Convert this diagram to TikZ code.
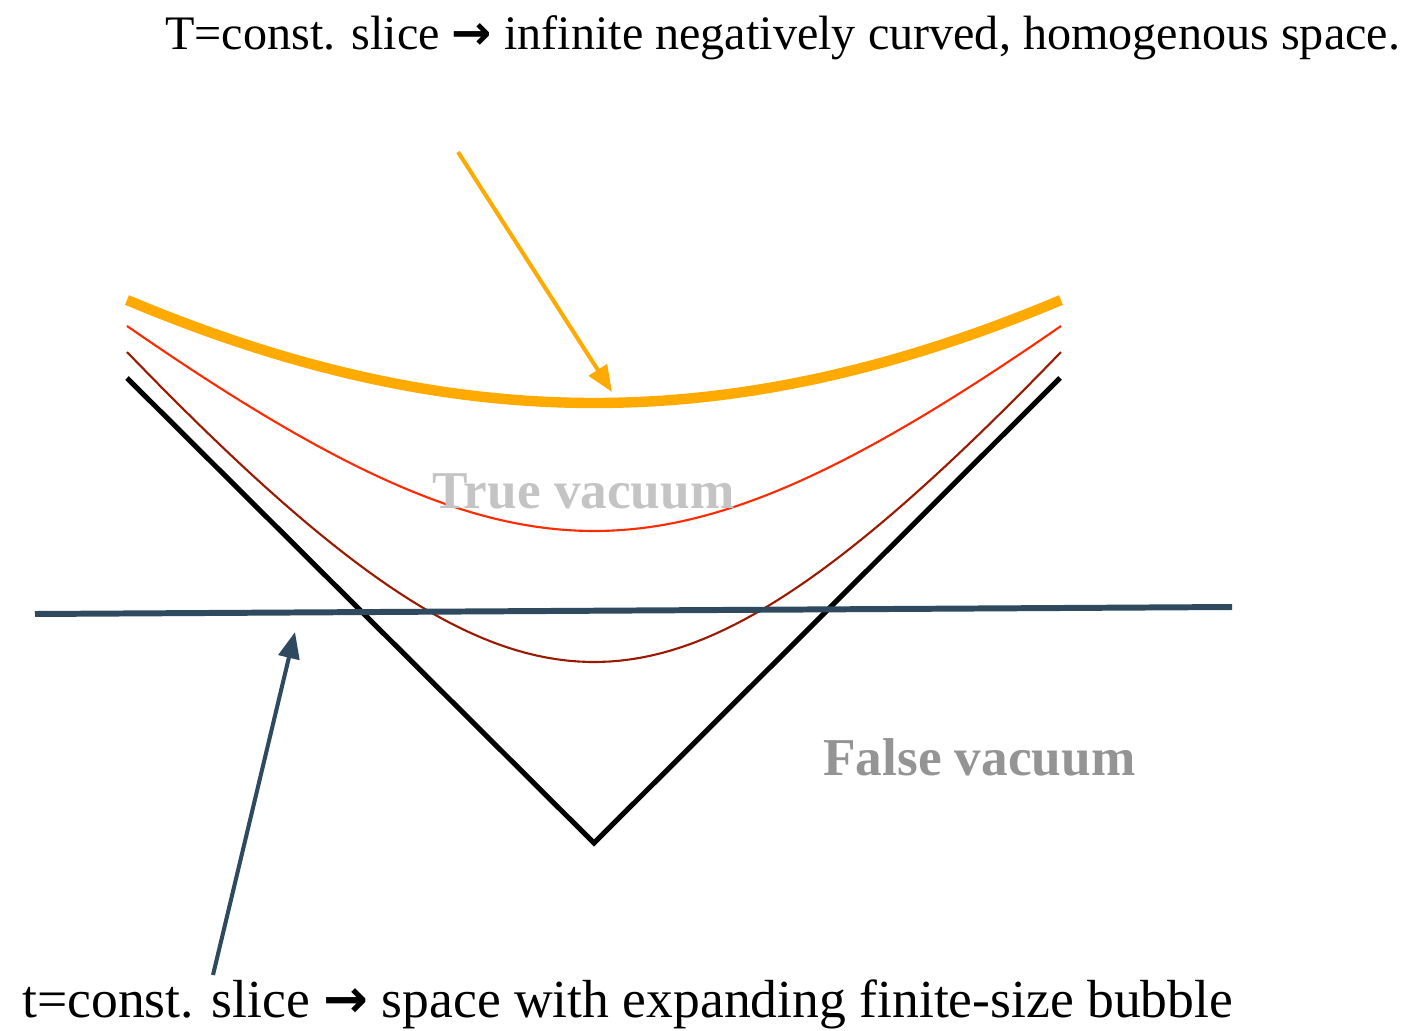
\documentclass[tikz,border=0pt]{standalone}
\usepackage{fontspec}
\setmainfont{Liberation Serif}
\newfontfamily\arrowfont{DejaVu Sans}
\usetikzlibrary{arrows.meta}
\definecolor{sliceorange}{HTML}{FFAA00}
\definecolor{bubblered}{HTML}{FF2A00}
\definecolor{darkred}{HTML}{991A00}
\definecolor{sliceblue}{HTML}{2F4A5E}
\tikzset{
  caption/.style={anchor=base west, inner sep=0pt},
  vaclabel/.style={anchor=base west, inner sep=0pt, font=\fontsize{30.3}{34}\selectfont\bfseries},
  pointer/.style={line width=2.3pt, -{Triangle[length=15pt,width=12pt]}}
}
\newcommand{\sliceto}{{\arrowfont\bfseries\char"2192}}
\begin{document}
\begin{tikzpicture}[x=2cm,y=-2cm]
\useasboundingbox (0,0) rectangle (14.25,10.31);
% light cone of the nucleation point
\coordinate (apex) at (5.94,8.43);
\coordinate (coneL) at (1.27,3.78);
\coordinate (coneR) at (10.60,3.78);
\draw[line width=2.9pt] (coneL)--(apex)--(coneR);
% T=const. slices inside the bubble
\foreach \h/\s/\a/\col/\w in {1.81/1.25/3.157/darkred/1.2pt, 3.12/0.85/3.315/bubblered/1.2pt, 4.40/1/10.072/sliceorange/5.9pt}
  \draw[\col, line width=\w] plot[domain=-4.67:4.67, samples=90]
    ({5.94+\x},{8.43-\h-\s*(sqrt(\x*\x+\a*\a)-\a)});
% t=const. slice
\coordinate (flatL) at (0.35,6.14);
\coordinate (flatR) at (12.32,6.07);
\draw[sliceblue, line width=3.4pt] (flatL)--(flatR);
% labels
\node[caption, font=\fontsize{27.4}{31}\selectfont] (Tslice) at (1.65,0.50) {T=const. slice \sliceto\ infinite negatively curved, homogenous space.};
\node[caption, font=\fontsize{30.5}{34}\selectfont] (tslice) at (0.22,10.17) {t=const. slice \sliceto\ space with expanding finite-size bubble};
\node[vaclabel, text=black!23] (truevac) at (4.32,5.08) {True vacuum};
\node[vaclabel, text=black!42] (falsevac) at (8.23,7.75) {False vacuum};
% pointers
\coordinate (Tfrom) at (4.58,1.52);
\coordinate (Tto) at (6.12,3.92);
\coordinate (tfrom) at (2.13,9.75);
\coordinate (tto) at (2.95,6.32);
\draw[pointer, sliceorange] (Tfrom)--(Tto);
\draw[pointer, sliceblue] (tfrom)--(tto);
\end{tikzpicture}
\end{document}
